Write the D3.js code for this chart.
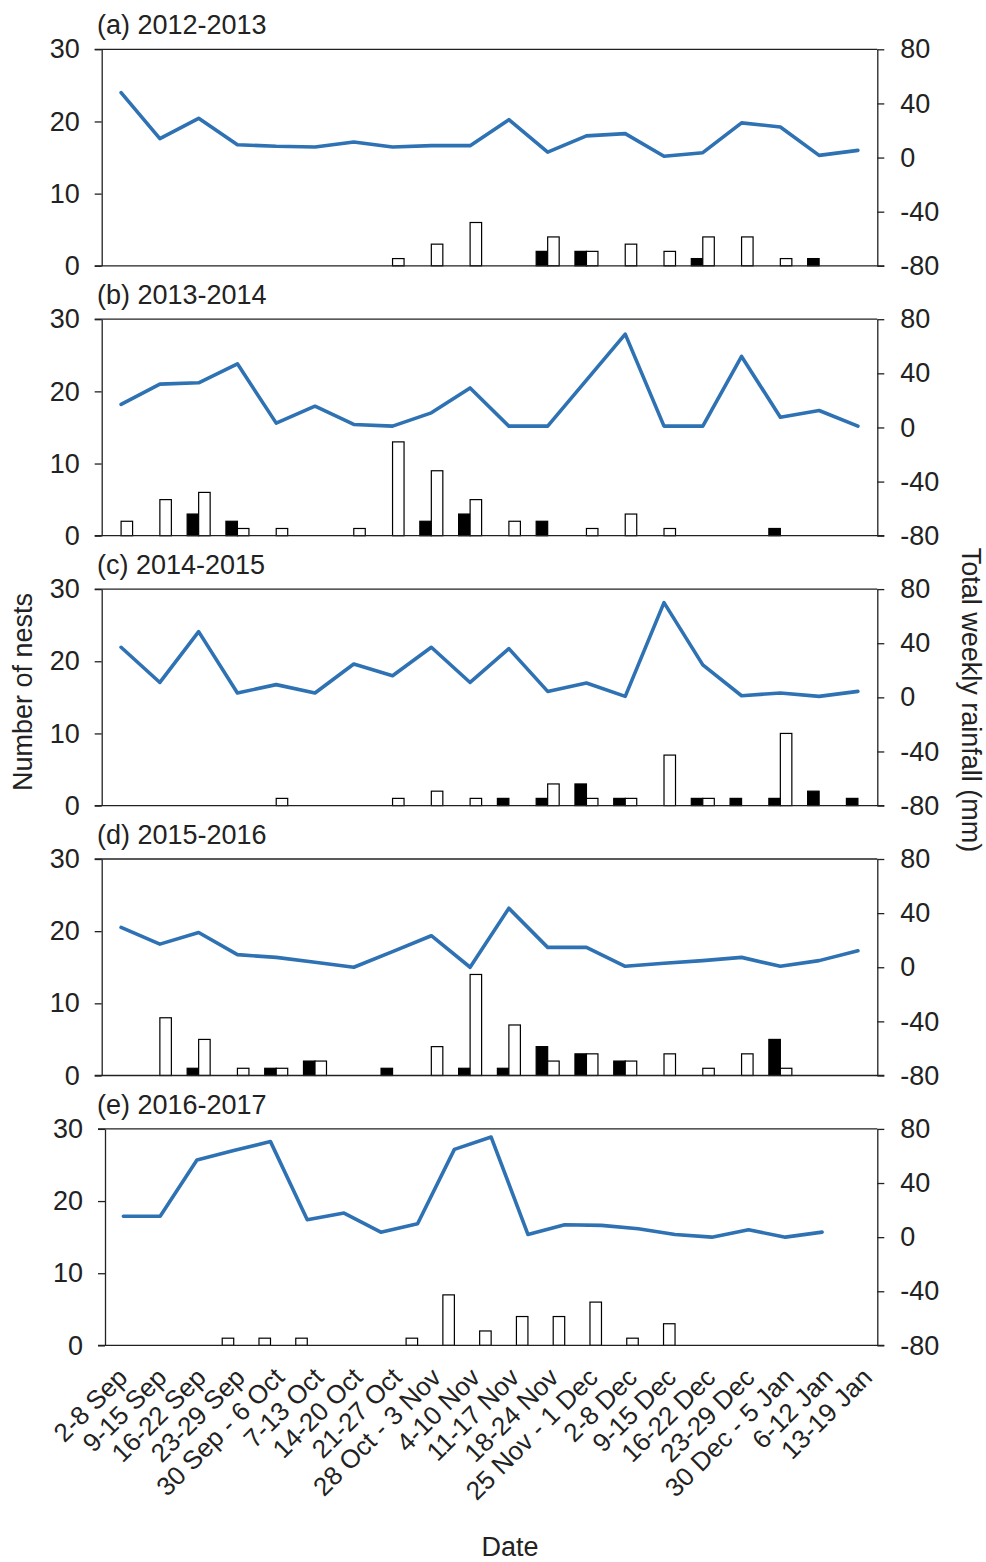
<!DOCTYPE html>
<html>
<head>
<meta charset="utf-8">
<script src="https://cdn.jsdelivr.net/npm/d3@7"></script>
<style>
  html, body { margin: 0; padding: 0; background: #fff; }
  svg { display: block; }
  text { font-family: "Liberation Sans", Arial, sans-serif; fill: #222; }
</style>
</head>
<body>
<svg id="chart" width="986" height="1562"></svg>
<script>
// Weekly categories along the x axis
const weeks = ["2-8 Sep", "9-15 Sep", "16-22 Sep", "23-29 Sep", "30 Sep - 6 Oct",
  "7-13 Oct", "14-20 Oct", "21-27 Oct", "28 Oct - 3 Nov", "4-10 Nov", "11-17 Nov",
  "18-24 Nov", "25 Nov - 1 Dec", "2-8 Dec", "9-15 Dec", "16-22 Dec", "23-29 Dec",
  "30 Dec - 5 Jan", "6-12 Jan", "13-19 Jan"];

const seasonLabels = ["(a) 2012-2013", "(b) 2013-2014", "(c) 2014-2015", "(d) 2015-2016", "(e) 2016-2017"];

const nestTicks = [0, 10, 20, 30];
const rainTicks = [-80, -40, 0, 40, 80];

// Number of nests per week: solid (black) and hollow (white) bars
const solid2012 = [0,0,0,0,0,0,0,0,0,0,0,2,2,0,0,1,0,0,1,0];
const hollow2012 = [0,0,0,0,0,0,0,1,3,6,0,4,2,3,2,4,4,1,0,0];
const solid2013 = [0,0,3,2,0,0,0,0,2,3,0,2,0,0,0,0,0,1,0,0];
const hollow2013 = [2,5,6,1,1,0,1,13,9,5,2,0,1,3,1,0,0,0,0,0];
const solid2014 = [0,0,0,0,0,0,0,0,0,0,1,1,3,1,0,1,1,1,2,1];
const hollow2014 = [0,0,0,0,1,0,0,1,2,1,0,3,1,1,7,1,0,10,0,0];
const solid2015 = [0,0,1,0,1,2,0,1,0,1,1,4,3,2,0,0,0,5,0,0];
const hollow2015 = [0,8,5,1,1,2,0,0,4,14,7,2,3,2,3,1,3,1,0,0];
const solid2016 = [0,0,0,0,0,0,0,0,0,0,0,0,0,0,0,0,0,0,0,0];
const hollow2016 = [0,0,0,1,1,1,0,0,1,7,2,4,4,6,1,3,0,0,0,0];

// Total weekly rainfall (mm)
const rain2012 = [48,14,29,9.5,8.3,7.8,11.5,7.8,8.8,8.8,28,4,16,17.7,1,3.6,25.6,22.6,1.6,5.3];
const rain2013 = [17,32,33,47,3.2,15.7,2.2,1,10.8,29.2,1,1,35,69,1,1,52.5,7.6,12.5,1];
const rain2014 = [37,11,48.6,3.2,9.4,3.2,24.6,16,37,11,36,4.4,10.6,0.7,70,24,1.2,3.2,0.7,4.4];
const rain2015 = [29.4,17.1,25.7,9.3,7.3,3.7,0,11.5,23.3,0,43.6,14.7,14.7,0.7,2.9,4.9,7.3,0.7,4.9,12.2];
const rain2016 = [15.4,15.4,57,64,70.6,12.9,17.8,3.7,9.9,64.9,74,2,9.2,8.7,6.2,2,0,5.4,0,3.7];

const panels = [
  { label: seasonLabels[0], solid: solid2012, hollow: hollow2012, rain: rain2012 },
  { label: seasonLabels[1], solid: solid2013, hollow: hollow2013, rain: rain2013 },
  { label: seasonLabels[2], solid: solid2014, hollow: hollow2014, rain: rain2014 },
  { label: seasonLabels[3], solid: solid2015, hollow: hollow2015, rain: rain2015 },
  // the last season's axis keeps one spare slot after 13-19 Jan, with the hollow series first
  { label: seasonLabels[4], solid: solid2016, hollow: hollow2016, rain: rain2016, spare: true }
];

const svg = d3.select("#chart");
const ink = "#222";
const lineBlue = "#2e72b4";
const fontSize = 27;

const rightX = 877.3;
const panelH = 216.5;
const barW = 11.5;

panels.forEach((p, i) => {
  const top = 49.3 + i * 269.9;
  const bottom = top + panelH;
  const leftX = p.spare ? 105 : 101.7;
  const slots = p.spare ? weeks.concat(["spare"]) : weeks;

  const x = d3.scaleBand().domain(slots).range([leftX, rightX]);
  const inner = d3.scaleBand()
    .domain(p.spare ? ["hollow", "solid"] : ["solid", "hollow"])
    .range([-barW, barW]);
  const yN = d3.scaleLinear().domain([0, 30]).range([bottom, top]);
  const yR = d3.scaleLinear().domain([-80, 80]).range([bottom, top]);
  const cx = w => x(w) + x.bandwidth() / 2;

  const g = svg.append("g");

  // bars
  const rows = [];
  weeks.forEach((w, k) => {
    rows.push({ week: w, key: "solid", v: p.solid[k] });
    rows.push({ week: w, key: "hollow", v: p.hollow[k] });
  });
  g.append("g").selectAll("rect")
    .data(rows.filter(d => d.v > 0))
    .join("rect")
    .attr("x", d => cx(d.week) + inner(d.key))
    .attr("y", d => yN(d.v))
    .attr("width", inner.bandwidth())
    .attr("height", d => yN(0) - yN(d.v))
    .attr("fill", d => d.key === "solid" ? "#000" : "#fff")
    .attr("stroke", "#000")
    .attr("stroke-width", 1.2);

  // rainfall line
  const line = d3.line()
    .x((d, k) => cx(weeks[k]))
    .y(d => yR(d));
  g.append("path")
    .datum(p.rain)
    .attr("d", line)
    .attr("fill", "none")
    .attr("stroke", lineBlue)
    .attr("stroke-width", 3.6)
    .attr("stroke-linejoin", "round")
    .attr("stroke-linecap", "round");

  // frame: top and bottom edges
  g.append("line").attr("x1", leftX - 7).attr("x2", rightX).attr("y1", top).attr("y2", top)
    .attr("stroke", ink).attr("stroke-width", 1.3);
  g.append("line").attr("x1", leftX - 7).attr("x2", rightX + 7).attr("y1", bottom).attr("y2", bottom)
    .attr("stroke", ink).attr("stroke-width", 1.3);

  // left axis: number of nests
  const axL = g.append("g").attr("transform", `translate(${leftX},0)`)
    .call(d3.axisLeft(yN).tickValues(nestTicks).tickFormat(d => String(d))
      .tickSize(7).tickSizeOuter(0).tickPadding(15));
  // right axis: rainfall (plain hyphen for negatives)
  const axR = g.append("g").attr("transform", `translate(${rightX},0)`)
    .call(d3.axisRight(yR).tickValues(rainTicks).tickFormat(d => String(d))
      .tickSize(7).tickSizeOuter(0).tickPadding(16));
  [axL, axR].forEach(ax => {
    ax.select(".domain").attr("stroke", ink).attr("stroke-width", 1.3);
    ax.selectAll(".tick line").attr("stroke", ink).attr("stroke-width", 1.3);
    ax.selectAll(".tick text").attr("font-size", fontSize).attr("fill", ink)
      .style("font-family", "'Liberation Sans', Arial, sans-serif");
  });

  // season title
  g.append("text")
    .attr("x", 97).attr("y", top - 15)
    .attr("font-size", fontSize)
    .text(p.label);
});

// week labels under the last panel
const xLab = d3.scalePoint().domain(weeks).range([129, 129 + 19 * 39.2]);
svg.append("g").selectAll("text")
  .data(weeks)
  .join("text")
  .attr("text-anchor", "end")
  .attr("font-size", 26)
  .attr("transform", d => `translate(${xLab(d)},${1379}) rotate(-45)`)
  .text(d => d);

// axis titles
svg.append("text")
  .attr("text-anchor", "middle")
  .attr("font-size", fontSize)
  .attr("transform", "translate(32,692) rotate(-90)")
  .text("Number of nests");

svg.append("text")
  .attr("text-anchor", "middle")
  .attr("font-size", fontSize)
  .attr("transform", "translate(962,700) rotate(90)")
  .text("Total weekly rainfall (mm)");

svg.append("text")
  .attr("text-anchor", "middle")
  .attr("font-size", fontSize)
  .attr("x", 510).attr("y", 1556)
  .text("Date");
</script>
</body>
</html>
